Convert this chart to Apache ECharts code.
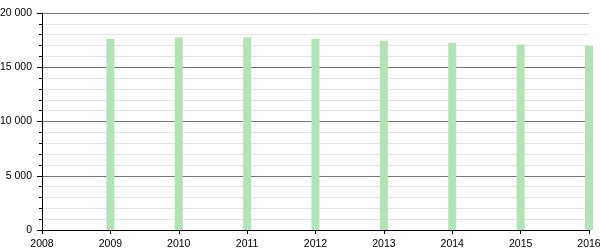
<!DOCTYPE html>
<html><head><meta charset="utf-8">
<script src="https://cdn.jsdelivr.net/npm/echarts@6/dist/echarts.min.js"></script>
<style>html,body{margin:0;padding:0;background:#fff}#c{width:600px;height:250px}</style>
</head><body><div id="c"></div>
<script>
var years = [2009, 2010, 2011, 2012, 2013, 2014, 2015, 2016];
var population = [17630, 17750, 17750, 17630, 17440, 17260, 17100, 16980];
var yTicks = [0, 5000, 10000, 15000, 20000];

var chart = echarts.init(document.getElementById('c'), null, {renderer: 'canvas'});
function fmt(v){ return String(v).replace(/\B(?=(\d{3})+(?!\d))/g, ' '); }
chart.setOption({
  animation: false,
  textStyle: {fontFamily: 'Liberation Sans, Arial, sans-serif'},
  grid: {left: 42, right: 11, top: 13, bottom: 20, containLabel: false, outerBoundsMode: 'none'},
  xAxis: {
    type: 'value', min: 2008, max: 2016, interval: 1,
    axisLine: {show: true, lineStyle: {color: '#000', width: 1}},
    axisTick: {show: true, length: 4, lineStyle: {color: '#000'}},
    axisLabel: {color: '#000', fontSize: 10.5, margin: 9, formatter: function(v){return String(v);}},
    splitLine: {show: false}
  },
  yAxis: {
    type: 'value', min: yTicks[0], max: yTicks[yTicks.length-1], interval: 5000,
    axisLine: {show: true, lineStyle: {color: '#000', width: 1}},
    axisTick: {show: true, length: 5, lineStyle: {color: '#000'}},
    minorTick: {show: true, splitNumber: 5, length: 3, lineStyle: {color: '#000'}},
    axisLabel: {color: '#000', fontSize: 10.5, margin: 10, formatter: fmt},
    splitLine: {show: true, lineStyle: {color: '#777', width: 1}},
    minorSplitLine: {show: true, lineStyle: {color: '#e3e3e3', width: 1}}
  },
  series: [{
    type: 'bar', barWidth: 8,
    itemStyle: {color: '#b0e4b4'},
    data: years.map(function(y, i){ return [y, population[i]]; })
  }]
});
</script></body></html>
